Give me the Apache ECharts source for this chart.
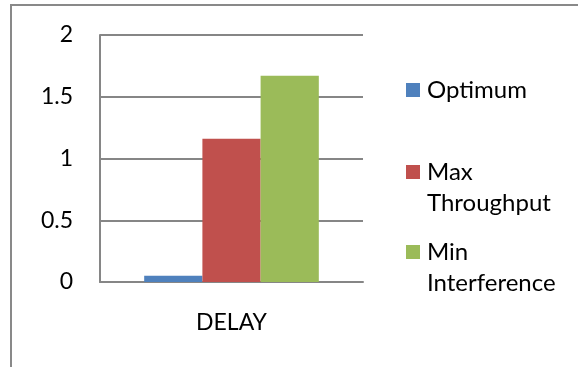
<!DOCTYPE html>
<html>
<head>
<meta charset="utf-8">
<script src="https://cdn.jsdelivr.net/npm/echarts@6/dist/echarts.min.js"></script>
<style>
  html, body { margin: 0; padding: 0; background: #fff; }
  #chart { width: 578px; height: 367px; }
</style>
</head>
<body>
<div id="chart"></div>
<script>
// Chart data
const categories = ['DELAY'];
const seriesNames = ['Optimum', 'Max\nThroughput', 'Min\nInterference'];
const seriesValues = [[0.05], [1.16], [1.67]];
const seriesColors = ['#4F81BD', '#C0504D', '#9BBB59'];
const yTicks = { min: 0, max: 2, interval: 0.5 };

const FONT = 'Lato';
const FONT_SIZE = 23;
const LEGEND_FONT_SIZE = 24;
const chart = echarts.init(document.getElementById('chart'));

// Legend drawn as graphic items: square swatch aligned with the first text line
const legendTop = [90, 172, 252];
const legendGraphics = [];
seriesNames.forEach((name, i) => {
  legendGraphics.push({
    type: 'rect',
    shape: { x: 406, y: legendTop[i] - 7, width: 14, height: 14 },
    style: { fill: seriesColors[i] }
  });
  name.split('\n').forEach((line, j) => {
    legendGraphics.push({
      type: 'text',
      x: 427,
      y: legendTop[i] + j * 31,
      style: {
        text: line,
        fill: '#000',
        font: LEGEND_FONT_SIZE + 'px ' + FONT,
        textVerticalAlign: 'middle',
        verticalAlign: 'middle'
      }
    });
  });
});

chart.setOption({
  animation: false,
  textStyle: { fontFamily: FONT },
  grid: { left: 100, right: 215, top: 35, bottom: 85, containLabel: false },
  xAxis: {
    type: 'category',
    data: categories,
    axisTick: { show: false },
    axisLine: { lineStyle: { color: '#868686', width: 2 } },
    axisLabel: { color: '#000', fontSize: FONT_SIZE, fontFamily: FONT, margin: 29 }
  },
  yAxis: {
    type: 'value',
    min: yTicks.min,
    max: yTicks.max,
    interval: yTicks.interval,
    axisLine: { show: true, lineStyle: { color: '#868686', width: 2 } },
    axisTick: { show: false },
    splitLine: { lineStyle: { color: '#868686', width: 2 } },
    axisLabel: { color: '#000', fontSize: FONT_SIZE, fontFamily: FONT, margin: 27 }
  },
  series: seriesNames.map((name, i) => ({
    type: 'bar',
    name: name,
    data: seriesValues[i],
    itemStyle: { color: seriesColors[i] },
    barGap: '0%',
    barCategoryGap: '33.6%'
  })),
  graphic: [
    {
      type: 'rect',
      shape: { x: 11, y: 5, width: 700, height: 500 },
      style: { fill: 'none', stroke: '#898989', lineWidth: 2 },
      z: 10
    }
  ].concat(legendGraphics)
});
</script>
</body>
</html>
